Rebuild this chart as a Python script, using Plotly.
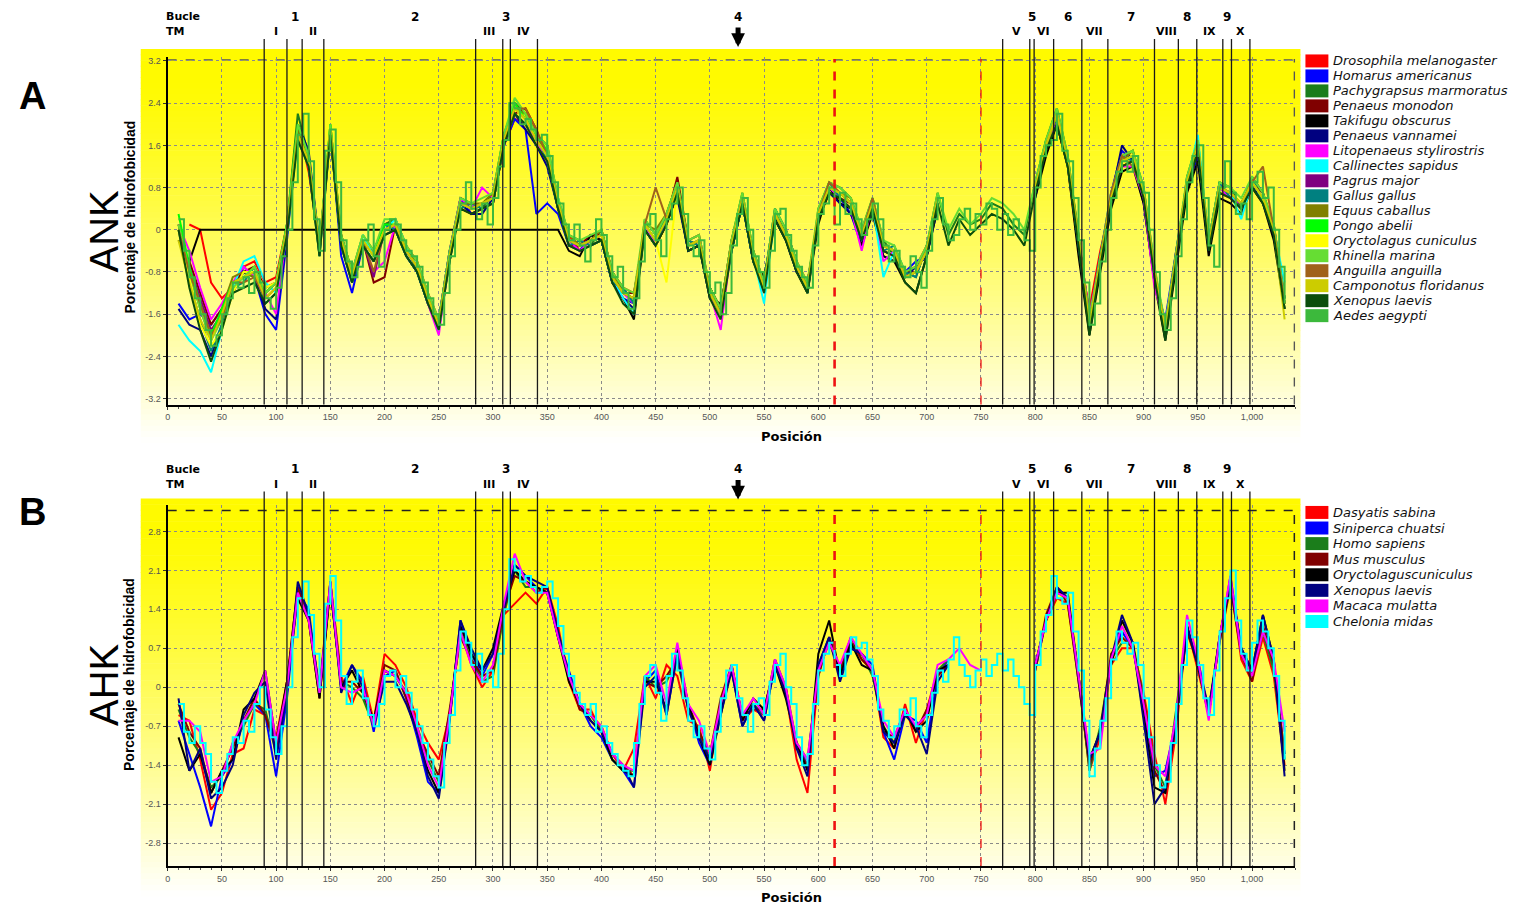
import plotly.graph_objects as go

W, H = 1528, 907
N = None

# ------------------------------------------------------------------ data
X_STEP5 = list(range(10, 1031, 5))
X_STEP10 = list(range(10, 1031, 10))
X_TICKS = list(range(0, 1001, 50))
X_TICK_TEXT = ["{:,}".format(v) for v in X_TICKS]
A_Y_TICKS = [-3.2, -2.4, -1.6, -0.8, 0, 0.8, 1.6, 2.4, 3.2]
A_Y_TICK_TEXT = ["-3.2", "-2.4", "-1.6", "-0.8", "0", "0.8", "1.6", "2.4", "3.2"]
B_Y_TICKS = [-2.8, -2.1, -1.4, -0.7, 0, 0.7, 1.4, 2.1, 2.8]
B_Y_TICK_TEXT = ["-2.8", "-2.1", "-1.4", "-0.7", "0", "0.7", "1.4", "2.1", "2.8"]

TM_BOUNDS = [89, 110, 124, 144, 284, 309, 316, 341, 770, 795,
             799, 817, 843, 867, 910, 932, 949, 973, 981, 998]
TM_LABELS = ["I", "II", "III", "IV", "V", "VI", "VII", "VIII", "IX", "X"]
LOOP_LABELS = ["1", "2", "3", "4", "5", "6", "7", "8", "9"]
LOOP_POS = [117, 228, 312, 526, 797, 830, 888, 940, 977]
ARROW_POS = 526
RED_LINES = [615, 750]

A_NAMES = ["Drosophila melanogaster", "Homarus americanus", "Pachygrapsus marmoratus",
           "Penaeus monodon", "Takifugu obscurus", "Penaeus vannamei",
           "Litopenaeus stylirostris", "Callinectes sapidus", "Pagrus major",
           "Gallus gallus", "Equus caballus", "Pongo abelii", "Oryctolagus cuniculus",
           "Rhinella marina", "Anguilla anguilla", "Camponotus floridanus",
           "Xenopus laevis", "Aedes aegypti"]
A_COLORS = ["#ff0000", "#0000ff", "#1b7d1b", "#800000", "#000000", "#000080",
            "#ff00ff", "#00ffff", "#800080", "#008080", "#808000", "#00ff00",
            "#ffff00", "#66dd33", "#a0621a", "#cccc00", "#0b4d0b", "#3cb93c"]

B_NAMES = ["Dasyatis sabina", "Siniperca chuatsi", "Homo sapiens", "Mus musculus",
           "Oryctolaguscuniculus", "Xenopus laevis", "Macaca mulatta", "Chelonia midas"]
B_COLORS = ["#ff0000", "#0000ff", "#1b7d1b", "#800000", "#000000", "#000080",
            "#ff00ff", "#00ffff"]

# ---- panel A (ANK), step-10 series: positions 10..1030
A_DROSOPHILA = [N, 0.1, 0.0, -1.0, -1.3, -1.1, -0.7, -0.6, -1.0, -0.9,
                0.1, 2.0, 1.1, -0.3, 1.8, -0.1, -0.8, -0.3, -0.4, 0.1,
                0.2, -0.3, -0.6, -1.2, -1.7, -0.4, 0.6, 0.3, 0.4, 0.5,
                1.6, 2.1, 2.0, 1.8, 1.3, 0.4, -0.1, -0.4, -0.2, 0.0,
                -0.8, -1.1, -1.2, 0.0, -0.3, 0.1, 0.7, -0.2, -0.3, -1.1,
                -1.5, -0.2, 0.5, -0.4, -1.0, 0.2, 0.0, -0.6, -1.0, 0.2,
                0.7, 0.6, 0.4, -0.2, 0.4, -0.4, -0.5, -0.8, -0.7, -0.3,
                0.5, N, N, N, N, N, N, N, N,
                0.7, 1.5, 2.0, 1.2, -0.4, -1.5, -0.4, 0.5, 1.2, 1.3,
                0.6, -0.9, -1.8, -0.6, 0.8, 1.5, -0.2, 0.7, 0.6, 0.4,
                0.8, 0.5, 0.1, -1.3]
A_HOMARUS = [-1.4, -1.7, -1.6, -1.8, -1.5, -1.2, -0.7, -0.9, -1.6, -1.9,
             -0.2, 1.9, 1.4, -0.3, 1.9, -0.5, -1.2, -0.3, -0.4, 0.1,
             0.0, -0.5, -0.8, -1.4, -1.7, -0.4, 0.6, 0.3, 0.4, 0.7,
             1.6, 2.1, 1.9, 0.3, 0.5, 0.3, -0.3, -0.4, -0.1, -0.2,
             -1.0, -1.3, -1.4, 0.0, -0.3, 0.3, 0.7, -0.4, -0.3, -1.3,
             -1.5, -0.4, 0.5, -0.6, -1.0, 0.2, -0.2, -0.8, -1.0, 0.2,
             0.7, 0.6, 0.3, -0.3, 0.4, -0.5, -0.6, -0.8, -0.6, -0.5,
             0.4, N, N, N, N, N, N, N, N,
             0.6, 1.5, 2.0, 1.4, -0.3, -1.7, -0.5, 0.7, 1.5, 1.3,
             0.5, -1.0, -1.7, -0.4, 0.8, 1.4, -0.4, 0.9, 0.6, 0.4,
             1.0, 0.7, -0.1, -1.3]
A_PACHYGRAPSUS = [0.1, -0.8, -1.4, -2.0, -1.7, -1.1, -0.8, -0.9, -1.2, -1.0,
                  0.1, 2.2, 1.4, -0.5, 2.0, -0.1, -0.8, -0.1, -0.4, 0.1,
                  0.2, -0.3, -0.8, -1.4, -1.9, -0.6, 0.6, 0.5, 0.4, 0.7,
                  1.8, 2.4, 2.2, 1.8, 1.6, 0.6, -0.1, -0.2, -0.3, 0.0,
                  -0.8, -1.1, -1.4, 0.2, -0.1, 0.3, 0.9, -0.2, -0.3, -1.1,
                  -1.5, -0.2, 0.7, -0.4, -1.0, 0.4, 0.0, -0.6, -1.2, 0.4,
                  0.9, 0.8, 0.6, 0.0, 0.6, -0.2, -0.5, -0.8, -0.9, -0.3,
                  0.7, -0.1, 0.3, 0.1, 0.2, 0.5, 0.4, 0.1, -0.1,
                  0.9, 1.7, 2.3, 1.4, -0.1, -1.9, -0.7, 0.5, 1.4, 1.5,
                  0.8, -0.7, -2.0, -0.6, 1.0, 1.7, -0.2, 0.9, 0.8, 0.4,
                  1.0, 0.7, 0.1, -1.5]
A_MONODON = [N, -0.6, -1.2, -1.8, -1.5, -1.0, -0.8, -0.7, -1.1, -1.0,
             0.0, 1.9, 1.2, -0.4, 1.8, -0.2, -0.8, -0.2, -1.0, -0.9,
             0.1, -0.4, -0.7, -1.3, -1.7, -0.5, 0.4, 0.3, 0.4, 0.5,
             1.6, 2.2, 2.3, 1.9, 1.3, 0.4, -0.3, -0.3, -0.1, -0.1,
             -0.9, -1.2, -1.2, 0.0, -0.2, 0.2, 1.0, -0.2, -0.1, -1.1,
             -1.5, -0.3, 0.5, -0.5, -1.0, 0.3, 0.0, -0.7, -1.0, 0.2,
             0.7, 0.6, 0.5, -0.1, 0.4, -0.3, -0.4, -0.8, -0.8, -0.4,
             0.5, N, N, N, N, N, N, N, N,
             0.7, 1.6, 2.1, 1.3, -0.2, -1.6, -0.6, 0.6, 1.2, 1.3,
             0.7, -0.8, -1.8, -0.5, 0.8, 1.5, -0.3, 0.8, 0.7, 0.5,
             0.9, 0.7, 0.0, -1.3]
A_TAKIFUGU = [-0.2, -0.6, 0.0, 0.0, 0.0, 0.0, 0.0, 0.0, 0.0, 0.0,
              0.0, 0.0, 0.0, 0.0, 0.0, 0.0, 0.0, 0.0, 0.0, 0.0,
              0.0, 0.0, 0.0, 0.0, 0.0, 0.0, 0.0, 0.0, 0.0, 0.0,
              0.0, 0.0, 0.0, 0.0, 0.0, 0.0, -0.4, -0.5, -0.1, -0.2,
              -1.0, -1.3, -1.7, 0.0, -0.3, 0.1, 0.7, -0.4, -0.3, -1.3,
              -1.4, -0.4, 0.5, -0.6, -0.9, 0.2, -0.2, -0.8, -1.2, 0.1,
              0.8, 0.5, 0.4, -0.3, 0.3, -0.5, -0.6, -1.0, -1.2, -0.5,
              0.4, N, N, N, N, N, N, N, N,
              0.6, 1.4, 2.0, 1.2, -0.5, -2.0, -0.8, 0.4, 1.1, 1.2,
              0.5, -1.0, -2.1, -0.7, 0.7, 1.3, -0.5, 0.6, 0.5, 0.3,
              0.8, 0.5, -0.2, -1.5]
A_VANNAMEI = [-1.5, -1.8, -1.9, -2.4, -1.8, -1.2, -0.8, -0.9, -1.5, -1.7,
              -0.1, 2.0, 1.5, -0.3, 1.8, -0.3, -1.0, -0.3, -0.6, -0.1,
              0.0, -0.5, -0.8, -1.4, -1.8, -0.6, 0.5, 0.3, 0.3, 0.6,
              1.6, 2.2, 1.9, 1.6, 1.2, 0.4, -0.2, -0.4, -0.3, -0.2,
              -1.0, -1.3, -1.5, 0.1, -0.2, 0.2, 0.6, -0.4, -0.3, -1.2,
              -1.6, -0.4, 0.5, -0.6, -1.1, 0.2, -0.1, -0.8, -1.1, 0.3,
              0.7, 0.5, 0.3, -0.2, 0.4, -0.4, -0.5, -0.9, -0.7, -0.5,
              0.5, N, N, N, N, N, N, N, N,
              0.7, 1.5, 2.1, 1.3, -0.3, -1.8, -0.5, 0.6, 1.6, 1.3,
              0.6, -0.9, -1.9, -0.4, 0.9, 1.5, -0.4, 0.8, 0.6, 0.5,
              0.9, 0.5, -0.1, -1.4]
A_LITOPENAEUS = [0.1, -0.4, -1.1, -1.7, -1.4, -1.0, -0.7, -0.9, -1.2, -1.6,
                 0.0, 1.9, 1.2, -0.4, 1.8, -0.2, -0.9, -0.2, -0.8, -0.6,
                 0.1, -0.4, -0.7, -1.4, -2.0, -0.5, 0.6, 0.4, 0.8, 0.6,
                 1.6, 2.2, 2.0, 1.7, 1.3, 0.5, -0.2, -0.4, -0.2, -0.1,
                 -0.9, -1.2, -1.4, 0.1, -0.3, 0.2, 0.8, -0.3, -0.2, -1.2,
                 -1.9, -0.3, 0.6, -0.5, -1.2, 0.3, -0.1, -0.7, -1.1, 0.3,
                 0.8, 0.6, 0.4, -0.4, 0.5, -0.6, -0.4, -0.9, -0.8, -0.4,
                 0.6, N, N, N, N, N, N, N, N,
                 0.8, 1.6, 2.1, 1.3, -0.2, -1.6, -0.6, 0.6, 1.2, 1.2,
                 0.6, -1.1, -1.8, -0.5, 0.9, 1.6, -0.3, 0.8, 0.6, 0.5,
                 0.9, 0.6, 0.0, -1.4]
A_CALLINECTES = [-1.8, -2.1, -2.3, -2.7, -1.9, -1.1, -0.6, -0.5, -1.0, -1.2,
                 -0.1, 1.8, 1.3, -0.4, 1.9, -0.2, -0.9, -0.1, -0.5, 0.0,
                 0.2, -0.3, -0.7, -1.3, -1.9, -0.5, 0.5, 0.4, 0.5, 0.6,
                 1.7, 2.3, 2.1, 1.7, 1.4, 0.6, -0.2, -0.3, -0.2, -0.1,
                 -0.9, -1.3, -1.6, 0.1, -0.2, 0.2, 0.8, -0.3, -0.2, -1.2,
                 -1.6, -0.3, 0.6, -0.5, -1.4, 0.3, -0.1, -0.7, -1.1, 0.3,
                 0.8, 0.7, 0.5, -0.1, 0.5, -0.9, -0.4, -0.9, -0.8, -0.4,
                 0.6, N, N, N, N, N, N, N, N,
                 0.8, 1.6, 2.2, 1.3, -0.2, -1.7, -0.6, 0.6, 1.3, 1.4,
                 0.7, -0.8, -1.8, -0.5, 0.9, 1.8, -0.3, 0.8, 0.7, 0.2,
                 0.9, 0.6, 0.0, -1.0]
A_PAGRUS = [N, -0.7, -1.3, -1.9, -1.6, -1.0, -0.9, -0.8, -1.2, -1.0,
            0.0, 1.8, 1.3, -0.4, 1.9, -0.2, -0.9, -0.2, -0.9, 0.0,
            0.1, -0.4, -0.7, -1.3, -1.8, -0.5, 0.5, 0.4, 0.5, 0.6,
            1.7, 2.3, 2.1, 1.7, 1.4, 0.5, -0.2, -0.3, -0.2, -0.1,
            -0.9, -1.2, -1.3, 0.1, -0.2, 0.2, 0.8, -0.3, -0.2, -1.2,
            -1.6, -0.3, 0.6, -0.5, -1.1, 0.3, -0.1, -0.7, -1.1, 0.3,
            0.8, 0.7, 0.5, -0.1, 0.5, -0.3, -0.4, -0.9, -0.8, -0.4,
            0.6, N, N, N, N, N, N, N, N,
            0.8, 1.6, 2.2, 1.3, -0.2, -1.8, -0.6, 0.6, 1.3, 1.4,
            0.7, -0.8, -1.9, -0.5, 0.9, 1.6, -0.3, 0.8, 0.7, 0.5,
            0.9, 0.6, 0.0, -1.4]
A_GALLUS = [0.0, -1.0, -1.7, -2.3, -1.8, -1.1, -1.0, -0.7, -1.4, -1.2,
            0.1, 1.7, 1.2, -0.5, 1.8, -0.3, -1.0, -0.3, -0.6, 0.1,
            0.0, -0.5, -0.8, -1.4, -1.7, -0.4, 0.4, 0.5, 0.4, 0.5,
            1.6, 2.2, 2.0, 1.8, 1.3, 0.4, -0.3, -0.2, -0.3, -0.2,
            -1.0, -1.1, -1.4, 0.0, -0.3, 0.3, 0.7, -0.2, -0.3, -1.1,
            -1.5, -0.4, 0.5, -0.6, -1.0, 0.4, 0.0, -0.6, -1.2, 0.2,
            0.9, 0.6, 0.4, -0.2, 0.6, -0.4, -0.3, -0.8, -0.9, -0.3,
            0.5, N, N, N, N, N, N, N, N,
            0.7, 1.7, 2.1, 1.2, -0.3, -1.9, -0.5, 0.5, 1.4, 1.3,
            0.8, -0.9, -1.8, -0.6, 1.0, 1.5, -0.2, 0.9, 0.6, 0.4,
            1.0, 0.5, 0.1, -1.3]
A_EQUUS = [0.1, -0.8, -1.5, -2.1, -1.5, -0.9, -0.8, -0.9, -1.2, -1.0,
           0.0, 1.9, 1.3, -0.3, 1.9, -0.1, -0.8, -0.2, -0.5, 0.0,
           0.1, -0.4, -0.6, -1.2, -1.8, -0.5, 0.5, 0.5, 0.5, 0.7,
           1.7, 2.3, 2.2, 1.7, 1.5, 0.5, -0.1, -0.3, -0.2, 0.0,
           -0.8, -1.2, -1.3, 0.1, 0.0, 0.3, 0.9, -0.3, -0.2, -1.1,
           -1.5, -0.2, 0.6, -0.4, -1.1, 0.3, -0.1, -0.7, -1.0, 0.3,
           0.8, 0.7, 0.6, -0.1, 0.5, -0.3, -0.4, -0.9, -0.8, -0.4,
           0.6, N, N, N, N, N, N, N, N,
           0.8, 1.5, 2.2, 1.3, -0.1, -1.7, -0.6, 0.6, 1.3, 1.5,
           0.7, -0.8, -1.9, -0.5, 0.9, 1.6, -0.3, 0.8, 0.7, 0.5,
           0.9, 0.6, 0.0, -1.4]
A_PONGO = [0.3, -0.7, -1.4, -2.0, -1.5, -1.0, -0.9, -0.7, -1.2, -1.0,
           0.1, 2.0, 1.4, -0.4, 2.0, -0.2, -0.8, -0.2, -0.5, 0.1,
           0.1, -0.4, -0.7, -1.3, -1.8, -0.5, 0.5, 0.4, 0.5, 0.6,
           1.8, 2.4, 2.1, 1.8, 1.5, 0.5, -0.2, -0.3, -0.2, -0.1,
           -0.9, -1.2, -1.3, 0.1, -0.2, 0.2, 0.8, -0.3, -0.2, -1.2,
           -1.6, -0.3, 0.6, -0.5, -1.1, 0.3, -0.1, -0.7, -1.1, 0.3,
           0.8, 0.7, 0.5, -0.1, 0.5, -0.3, -0.4, -0.9, -0.8, -0.4,
           0.6, N, N, N, N, N, N, N, N,
           0.8, 1.6, 2.2, 1.3, -0.2, -1.8, -0.6, 0.6, 1.3, 1.4,
           0.7, -0.8, -1.9, -0.5, 0.9, 1.6, -0.3, 0.8, 0.7, 0.5,
           0.9, 0.6, 0.0, -1.4]
A_ORYCTOLAGUS = [0.0, -0.9, -1.8, -2.2, -1.9, -1.2, -0.8, -0.8, -1.1, -1.0,
                 0.0, 1.8, 1.3, -0.4, 1.9, -0.2, -0.9, -0.2, -0.5, 0.0,
                 0.1, -0.4, -0.7, -1.3, -1.8, -0.5, 0.5, 0.4, 0.5, 0.6,
                 1.7, 2.3, 2.1, 1.7, 1.4, 0.5, -0.2, -0.3, -0.2, -0.1,
                 -0.9, -1.2, -1.3, 0.1, -0.2, -1.0, 0.8, -0.3, -0.2, -1.2,
                 -1.6, -0.3, 0.6, -0.5, -1.1, 0.3, -0.1, -0.7, -1.1, 0.3,
                 0.8, 0.7, 0.5, -0.1, 0.5, -0.3, -0.4, -0.9, -0.8, -0.4,
                 0.6, N, N, N, N, N, N, N, N,
                 0.8, 1.6, 2.2, 1.3, -0.2, -1.8, -0.6, 0.6, 1.3, 1.4,
                 0.7, -0.8, -1.9, -0.5, 0.9, 1.6, -0.3, 0.8, 0.7, 0.5,
                 0.9, 0.6, 0.0, -1.4]
A_RHINELLA = [0.1, -0.8, -1.5, -2.1, -1.7, -1.1, -0.9, -0.7, -1.2, -1.0,
              0.1, 2.0, 1.4, -0.3, 2.0, -0.1, -0.8, -0.1, -0.4, 0.2,
              0.2, -0.3, -0.6, -1.2, -1.7, -0.4, 0.6, 0.5, 0.6, 0.7,
              1.8, 2.5, 2.2, 1.8, 1.6, 0.6, -0.1, -0.2, -0.1, 0.0,
              -0.8, -1.1, -1.2, 0.2, -0.1, 0.3, 0.9, -0.2, -0.1, -1.1,
              -1.5, -0.2, 0.7, -0.4, -1.0, 0.4, 0.0, -0.6, -1.0, 0.4,
              0.9, 0.8, 0.6, 0.0, 0.6, -0.2, -0.3, -0.8, -0.7, -0.3,
              0.7, 0.0, 0.4, 0.1, 0.3, 0.6, 0.5, 0.3, 0.0,
              0.9, 1.7, 2.3, 1.4, -0.1, -1.7, -0.5, 0.7, 1.4, 1.5,
              0.8, -0.7, -1.8, -0.4, 1.0, 1.7, -0.2, 0.9, 0.8, 0.6,
              1.0, 0.7, 0.1, -1.3]
A_ANGUILLA = [0.0, -0.8, -1.4, -2.0, -1.7, -1.0, -1.0, -0.9, -1.3, -1.1,
              0.0, 1.8, 1.3, -0.4, 1.9, -0.2, -0.9, -0.2, -0.8, 0.0,
              0.1, -0.4, -0.7, -1.3, -1.8, -0.5, 0.5, 0.4, 0.5, 0.6,
              1.7, 2.3, 2.3, 1.9, 1.4, 0.5, -0.2, -0.3, -0.2, -0.1,
              -0.9, -1.2, -1.3, 0.1, 0.8, 0.2, 0.8, -0.3, -0.2, -1.2,
              -1.6, -0.3, 0.6, -0.5, -1.1, 0.3, -0.1, -0.7, -1.1, 0.3,
              0.9, 0.7, 0.5, -0.1, 0.6, -0.3, -0.4, -0.9, -0.8, -0.4,
              0.6, N, N, N, N, N, N, N, N,
              0.8, 1.6, 2.2, 1.3, -0.2, -1.8, -0.6, 0.7, 1.4, 1.2,
              0.7, -0.8, -1.9, -0.5, 0.9, 1.6, -0.3, 0.8, 0.7, 0.5,
              0.9, 1.2, 0.0, -1.4]
A_CAMPONOTUS = [-0.2, -1.0, -1.7, -2.1, -1.6, -1.0, -0.9, -0.8, -1.3, -1.1,
                0.0, 1.8, 1.3, -0.4, 1.9, -0.2, -0.9, -0.2, -0.5, 0.0,
                0.1, -0.4, -0.7, -1.3, -1.8, -0.5, 0.5, 0.4, 0.5, 0.6,
                1.7, 2.3, 2.1, 1.7, 1.4, 0.5, -0.2, -0.3, -0.2, -0.1,
                -0.9, -1.2, -1.3, 0.1, -0.2, 0.2, 0.8, -0.3, -0.2, -1.2,
                -1.6, -0.3, 0.6, -0.5, -1.1, 0.3, -0.1, -0.7, -1.1, 0.3,
                0.8, 0.7, 0.5, -0.1, 0.5, -0.3, -0.4, -0.9, -0.8, -0.4,
                0.6, N, N, N, N, N, N, N, N,
                0.8, 1.6, 2.2, 1.3, -0.2, -1.8, -0.6, 0.6, 1.3, 1.4,
                0.7, -0.8, -1.9, -0.5, 0.9, 1.6, -0.3, 0.8, 0.7, 0.5,
                0.9, 0.6, 0.0, -1.7]
A_XENOPUS = [0.0, -1.1, -1.9, -2.5, -1.9, -1.2, -1.1, -1.0, -1.4, -1.2,
             -0.1, 1.7, 1.2, -0.5, 1.8, -0.3, -1.0, -0.3, -0.6, -0.1,
             0.0, -0.5, -0.8, -1.4, -1.9, -0.6, 0.4, 0.3, 0.4, 0.5,
             1.6, 2.2, 2.0, 1.6, 1.3, 0.4, -0.3, -0.4, -0.3, -0.2,
             -1.0, -1.4, -1.6, 0.0, -0.3, 0.1, 0.7, -0.4, -0.3, -1.3,
             -1.7, -0.4, 0.5, -0.6, -1.2, 0.2, -0.2, -0.8, -1.2, 0.2,
             0.7, 0.6, 0.4, -0.2, 0.4, -0.4, -0.5, -1.0, -1.2, -0.5,
             0.5, -0.3, 0.2, -0.1, 0.1, 0.3, 0.2, 0.0, -0.3,
             0.7, 1.5, 2.0, 1.2, -0.3, -2.0, -0.7, 0.5, 1.2, 1.3,
             0.6, -0.9, -2.1, -0.6, 0.8, 1.5, -0.4, 0.7, 0.6, 0.4,
             0.8, 0.5, -0.1, -1.5]
# step-5 series (drawn on top): positions 10..1030
A_AEDES = [0.2, -0.4, -0.9, -1.3, -1.6, -1.9, -2.2, -2.0, -1.6, -1.3, -1.0, -1.1, -0.9, -1.2, -0.8, -1.0, -1.3, -1.5, -1.1, -0.5,
           0.0, 0.9, 1.8, 2.2, 1.3, 0.2, -0.4, 1.5, 1.9, 0.9, -0.2, -0.6, -0.9, -0.7, -0.2, 0.1, -0.5, -0.7, 0.0, 0.2,
           0.1, -0.2, -0.4, -0.5, -0.7, -1.0, -1.3, -1.6, -1.8, -1.2, -0.5, 0.0, 0.5, 0.9, 0.4, 0.2, 0.5, 0.1, 0.6, 1.2,
           1.7, 2.4, 2.3, 2.0, 2.1, 1.9, 1.7, 1.8, 1.4, 0.9, 0.5, 0.1, -0.2, 0.1, -0.3, -0.6, -0.2, 0.2, -0.1, -0.5,
           -0.9, -0.7, -1.2, -1.5, -1.3, -0.6, 0.1, 0.3, -0.2, -0.5, 0.2, 0.5, 0.8, 0.3, -0.3, -0.5, -0.2, -0.8, -1.2, -1.0,
           -1.6, -1.2, -0.3, 0.3, 0.6, 0.0, -0.5, -0.8, -1.1, -0.4, 0.3, 0.4, -0.1, -0.4, -0.7, -0.9, -1.1, -0.3, 0.3, 0.5,
           0.8, 0.1, 0.7, 0.3, 0.5, 0.2, -0.1, 0.2, 0.5, 0.2, -0.3, -0.6, -0.4, -0.7, -0.9, -0.5, -0.8, -1.1, -0.4, 0.2,
           0.6, 0.1, -0.2, -0.1, 0.2, 0.4, 0.0, 0.3, 0.1, 0.5, 0.4, 0.0, 0.3, -0.1, 0.2, 0.0, -0.2, -0.4, 0.8, 1.4,
           1.6, 1.7, 2.2, 1.5, 1.3, 0.6, -0.2, -1.0, -1.8, -1.4, -0.6, 0.0, 0.6, 1.1, 1.3, 1.1, 1.4, 0.9, 0.7, 0.0,
           -0.8, -1.6, -1.9, -1.3, -0.5, 0.2, 0.9, 1.4, 1.6, 0.6, -0.3, -0.7, 0.8, 1.3, 0.7, 0.3, 0.5, 0.2, 0.9, 1.1,
           0.6, 0.8, 0.0, -0.7, -1.4]

# ---- panel B (AHK), step-10 series
B_DASYATIS = [-0.5, -0.6, -1.3, -2.2, -1.9, -1.2, -1.1, -0.4, -0.5, -0.9,
              0.1, 1.8, 1.2, 0.0, 1.9, 0.2, -0.3, 0.2, -0.6, 0.6,
              0.4, 0.0, -0.6, -1.0, -1.3, -0.5, 1.0, 0.4, 0.0, 0.3,
              1.3, 1.5, 1.7, 1.5, 1.8, 1.1, 0.1, -0.4, -0.4, -0.8,
              -1.2, -1.5, -1.1, 0.2, -0.2, 0.4, 0.2, -0.6, -0.7, -1.5,
              -0.3, 0.3, -0.6, -0.4, -0.5, 0.5, -0.1, -1.3, -1.9, 0.2,
              0.9, 0.3, 0.8, 0.5, 0.3, -0.9, -1.1, -0.3, -1.0, -0.4,
              0.3, 0.4, N, N, N, N, N, N, N,
              0.3, 1.2, 1.6, 1.5, 0.2, -1.5, -0.9, 0.4, 0.7, 0.7,
              -0.1, -1.2, -2.1, -0.8, 1.1, 0.3, -0.5, 0.9, 1.9, 0.5,
              0.1, 0.9, 0.2, -1.4]
B_SINIPERCA = [-0.6, -1.2, -1.8, -2.5, -1.6, -1.3, -0.6, -0.3, -0.5, -1.6,
               -0.2, 1.7, 1.4, -0.1, 1.8, 0.0, 0.4, 0.1, -0.8, 0.2,
               0.3, -0.2, -0.9, -1.7, -1.9, -0.6, 1.2, 0.6, 0.2, 0.6,
               1.4, 2.2, 2.0, 1.8, 1.7, 0.9, 0.3, -0.3, -0.7, -0.9,
               -1.3, -1.5, -1.8, 0.1, 0.3, -0.5, 0.6, -0.3, -1.0, -1.4,
               -0.4, 0.3, -0.7, -0.3, -0.6, 0.4, -0.1, -1.0, -1.4, 0.4,
               0.9, 0.2, 0.7, 0.6, 0.4, -0.8, -1.3, -0.5, -0.6, -1.0,
               0.2, 0.5, N, N, N, N, N, N, N,
               0.3, 1.2, 1.8, 1.6, 0.1, -1.4, -0.8, 0.5, 1.0, 0.7,
               -0.3, -1.6, -1.5, -0.6, 1.0, 0.5, -0.4, 0.8, 2.0, 0.7,
               0.2, 1.1, 0.4, -1.2]
B_HOMO = [-0.4, -0.9, -1.2, -1.8, -1.6, -1.0, -0.7, -0.3, -0.4, -1.2,
          0.0, 1.7, 1.3, -0.1, 1.9, 0.1, 0.0, -0.2, -0.7, 0.3,
          0.2, -0.1, -0.7, -1.3, -1.7, -0.5, 1.0, 0.5, 0.1, 0.2,
          1.3, 2.1, 1.8, 1.8, 1.7, 1.0, 0.2, -0.3, -0.5, -0.8,
          -1.3, -1.5, -1.5, 0.2, 0.0, 0.1, 0.5, -0.4, -0.8, -1.3,
          -0.3, 0.3, -0.5, -0.3, -0.5, 0.5, 0.0, -1.0, -1.3, 0.3,
          0.8, 0.3, 0.8, 0.6, 0.2, -0.7, -1.0, -0.5, -0.7, -0.5,
          0.3, 0.5, N, N, N, N, N, N, N,
          0.4, 1.2, 1.7, 1.6, 0.2, -1.5, -0.7, 0.5, 0.8, 0.8,
          -0.2, -1.4, -1.8, -0.4, 1.1, 0.4, -0.5, 0.9, 1.9, 0.6,
          0.2, 1.0, 0.3, -1.3]
B_MUS = [-0.3, -0.8, -1.1, -1.9, -1.5, -1.1, -0.6, -0.2, -0.5, -1.1,
         0.1, 1.8, 1.2, -0.2, 1.8, 0.1, 0.1, -0.1, -0.6, 0.4,
         0.3, -0.2, -0.8, -1.2, -1.6, -0.4, 0.9, 0.5, 0.2, 0.3,
         1.4, 2.0, 1.9, 1.7, 1.8, 0.9, 0.2, -0.4, -0.5, -0.7,
         -1.2, -1.4, -1.6, 0.1, 0.0, 0.2, 0.5, -0.3, -0.8, -1.2,
         -0.2, 0.4, -0.5, -0.4, -0.4, 0.4, 0.0, -1.1, -1.4, 0.2,
         0.9, 0.3, 0.9, 0.5, 0.3, -0.8, -0.9, -0.4, -0.8, -0.4,
         0.2, 0.4, N, N, N, N, N, N, N,
         0.3, 1.3, 1.8, 1.5, 0.1, -1.4, -0.8, 0.6, 0.9, 0.7,
         -0.2, -1.5, -1.9, -0.5, 1.0, 0.4, -0.4, 0.8, 1.8, 0.6,
         0.1, 1.1, 0.4, -1.2]
B_ORYCTOLAGUS = [-0.9, -1.5, -1.2, -1.9, -1.5, -1.3, -0.4, -0.2, 0.3, -1.0,
                 0.1, 1.6, 1.2, -0.2, 1.8, 0.0, 0.3, -0.1, -0.6, 0.3,
                 0.2, -0.1, -0.8, -1.5, -1.9, -0.5, 1.1, 0.6, 0.3, 0.7,
                 1.5, 2.1, 1.9, 1.8, 1.7, 0.9, 0.1, -0.3, -0.6, -0.8,
                 -1.3, -1.5, -1.6, 0.1, 0.1, -0.4, 0.7, -0.3, -0.9, -1.4,
                 -0.5, 0.4, -0.6, -0.2, -0.4, 0.4, -0.2, -1.0, -1.5, 0.6,
                 1.2, 0.2, 0.8, 0.4, 0.3, -0.7, -1.1, -0.4, -0.8, -0.6,
                 0.3, 0.4, N, N, N, N, N, N, N,
                 0.4, 1.2, 1.7, 1.7, 0.2, -1.3, -0.8, 0.4, 1.2, 0.8,
                 -0.5, -1.8, -1.9, -0.6, 1.1, 0.4, -0.5, 0.9, 1.9, 0.7,
                 0.3, 1.3, 0.5, -1.5]
B_XENOPUS = [-0.2, -1.5, -1.1, -2.0, -1.8, -1.4, -0.5, -0.1, 0.1, -1.3,
             -0.1, 1.9, 1.3, -0.1, 1.9, -0.1, 0.4, 0.0, -0.7, 0.1,
             0.1, -0.3, -0.8, -1.6, -2.0, -0.6, 1.2, 0.7, 0.3, 0.6,
             1.4, 2.2, 2.0, 1.9, 1.8, 1.0, 0.2, -0.3, -0.6, -0.8,
             -1.2, -1.4, -1.8, 0.0, 0.2, -0.5, 0.6, -0.4, -0.9, -1.3,
             -0.5, 0.3, -0.7, -0.3, -0.6, 0.4, -0.1, -1.1, -1.6, 0.4,
             0.9, 0.1, 0.7, 0.6, 0.3, -0.8, -1.0, -0.5, -0.7, -1.2,
             0.1, 0.4, N, N, N, N, N, N, N,
             0.4, 1.2, 1.8, 1.6, 0.2, -1.3, -0.8, 0.5, 1.3, 0.8,
             -0.6, -2.1, -1.8, -0.6, 1.1, 0.4, -0.4, 0.9, 1.9, 0.7,
             0.3, 1.3, 0.5, -1.6]
B_MACACA = [-0.6, -0.6, -0.8, -1.7, -1.6, -1.0, -0.6, -0.3, 0.3, -1.0,
            0.0, 1.7, 1.2, -0.1, 1.9, 0.0, -0.1, 0.0, -0.7, 0.3,
            0.2, -0.1, -0.7, -1.4, -1.8, -0.5, 1.0, 0.4, 0.1, 0.4,
            1.5, 2.4, 1.9, 1.7, 1.7, 0.9, 0.2, -0.3, -0.5, -0.7,
            -1.2, -1.4, -1.5, 0.2, 0.4, -0.3, 0.8, -0.3, -0.6, -1.2,
            -0.3, 0.4, -0.5, -0.2, -0.5, 0.5, 0.0, -1.0, -1.3, 0.3,
            0.8, 0.4, 0.9, 0.6, 0.3, -0.6, -0.9, -0.4, -0.7, -0.5,
            0.4, 0.5, 0.7, 0.4, 0.3, N, N, N, N,
            0.4, 1.2, 1.7, 1.6, 0.2, -1.2, -1.1, 0.5, 1.1, 0.7,
            -0.3, -1.4, -1.6, -0.5, 1.3, 0.5, -0.6, 0.9, 2.0, 0.6,
            0.2, 1.0, 0.5, -0.8]
# step-5 series (drawn on top)
B_CHELONIA = [-0.3, -0.8, -1.0, -0.7, -1.0, -1.2, -1.7, -1.9, -1.5, -1.2, -0.9, -1.0, -0.6, -0.8, -0.3, 0.0, -0.4, -0.9, -1.2, -0.7,
              0.0, 0.9, 1.6, 1.9, 1.3, 0.6, 0.0, 1.5, 2.0, 1.2, 0.2, -0.3, 0.1, 0.3, -0.2, -0.5, -0.7, -0.3, 0.2, 0.3,
              0.0, 0.2, -0.1, -0.4, -0.7, -1.0, -1.3, -1.6, -1.8, -1.0, -0.5, 0.3, 1.0, 0.8, 0.4, 0.6, 0.1, 0.3, 0.0, 0.6,
              1.4, 2.3, 2.1, 1.9, 2.0, 1.8, 1.7, 1.8, 1.9, 1.6, 1.1, 0.6, 0.2, -0.1, -0.3, -0.5, -0.3, -0.8, -0.7, -1.0,
              -1.2, -1.4, -1.5, -1.6, -1.0, -0.3, 0.2, 0.4, -0.1, -0.6, 0.2, 0.6, 0.3, -0.2, -0.6, -0.9, -0.7, -1.1, -1.3, -0.8,
              -0.2, 0.3, 0.4, -0.2, -0.5, -0.8, -0.3, -0.2, -0.5, 0.1, 0.4, 0.6, 0.0, -0.3, -0.9, -1.4, -1.2, -0.3, 0.3, 0.6,
              0.8, 0.4, 0.2, 0.6, 0.9, 0.7, 0.8, 0.5, 0.2, -0.4, -0.6, -0.9, -0.7, -0.4, -0.5, -0.2, -0.7, -0.9, -0.5, -0.1,
              0.3, 0.1, 0.5, 0.9, 0.4, 0.2, 0.0, 0.3, 0.5, 0.2, 0.4, 0.6, 0.3, 0.5, 0.2, 0.0, -0.3, -0.5, 0.4, 1.0,
              1.3, 2.0, 1.6, 1.5, 1.7, 1.0, 0.3, -0.6, -1.6, -1.1, -0.6, -0.2, 0.5, 1.0, 0.8, 0.6, 0.8, 0.4, -0.2, -0.9,
              -1.4, -1.8, -1.7, -1.0, -0.3, 0.4, 1.2, 0.9, 0.4, -0.2, -0.5, 0.3, 1.0, 1.6, 2.1, 1.2, 0.6, 0.3, 0.8, 1.2,
              1.0, 0.7, 0.2, -0.6, -1.3]

A_SERIES = [A_DROSOPHILA, A_HOMARUS, A_PACHYGRAPSUS, A_MONODON, A_TAKIFUGU, A_VANNAMEI,
            A_LITOPENAEUS, A_CALLINECTES, A_PAGRUS, A_GALLUS, A_EQUUS, A_PONGO,
            A_ORYCTOLAGUS, A_RHINELLA, A_ANGUILLA, A_CAMPONOTUS, A_XENOPUS, A_AEDES]
B_SERIES = [B_DASYATIS, B_SINIPERCA, B_HOMO, B_MUS, B_ORYCTOLAGUS, B_XENOPUS, B_MACACA, B_CHELONIA]

for s in A_SERIES + B_SERIES:
    assert len(s) in (len(X_STEP10), len(X_STEP5)), len(s)

# ------------------------------------------------------------------ layout helpers
def pxx(px):
    return px / W


def pxy(py):
    return 1 - py / H


X_DOMAIN = [pxx(165), pxx(1295)]
X_RANGE = [0, 1040]
A_DOMAIN_Y = [pxy(404), pxy(55.8)]
A_RANGE_Y = [-3.314, 3.28]
B_DOMAIN_Y = [pxy(866), pxy(505)]
B_RANGE_Y = [-3.213, 3.267]

fig = go.Figure()

for vals, col in zip(A_SERIES, A_COLORS):
    xs = X_STEP5 if len(vals) == len(X_STEP5) else X_STEP10
    shape = "hv" if len(vals) == len(X_STEP5) else "linear"
    fig.add_trace(go.Scatter(x=xs, y=vals, mode="lines", xaxis="x", yaxis="y",
                             line=dict(color=col, width=2, shape=shape),
                             connectgaps=False, showlegend=False, hoverinfo="skip"))
for vals, col in zip(B_SERIES, B_COLORS):
    xs = X_STEP5 if len(vals) == len(X_STEP5) else X_STEP10
    shape = "hv" if len(vals) == len(X_STEP5) else "linear"
    fig.add_trace(go.Scatter(x=xs, y=vals, mode="lines", xaxis="x2", yaxis="y2",
                             line=dict(color=col, width=2, shape=shape),
                             connectgaps=False, showlegend=False, hoverinfo="skip"))

shapes = []
annotations = []


def gradient(py_top, py_bot, px_l, px_r, n=70):
    span = py_bot - py_top
    for k in range(n):
        t0, t1 = k / n, (k + 1) / n
        t = (t0 + t1) / 2
        w = max(0.0, (t - 0.08) / 0.92) ** 1.25
        g = int(round(250 + 5 * w))
        b = int(round(255 * w))
        shapes.append(dict(type="rect", xref="paper", yref="paper", layer="below",
                           x0=pxx(px_l), x1=pxx(px_r),
                           y0=pxy(py_top + span * t1 + 0.6), y1=pxy(py_top + span * t0),
                           fillcolor="rgb(255,%d,%d)" % (g, b), line=dict(width=0)))


gradient(48, 442, 138, 1300)
gradient(498, 896, 138, 1300)

panels = [
    dict(xr="x", yr="y", dom=A_DOMAIN_Y, tm_top=38, red_top=58, dash_y=3.22,
         dash_col="#555555", dash_w=1.4, hdr1=16, hdr2=31, arrow_tip=46,
         title_y=436, big="ANK", big_y=230, sub_y=216, letter="A", letter_y=95,
         names=A_NAMES, colors=A_COLORS, leg_y0=60, leg_dy=15.0),
    dict(xr="x2", yr="y2", dom=B_DOMAIN_Y, tm_top=491, red_top=510, dash_y=3.177,
         dash_col="#222222", dash_w=1.6, hdr1=469, hdr2=484, arrow_tip=499,
         title_y=897, big="AHK", big_y=684, sub_y=674, letter="B", letter_y=512,
         names=B_NAMES, colors=B_COLORS, leg_y0=512, leg_dy=15.6),
]

bold = dict(family="DejaVu Sans", size=11, color="black")
for p in panels:
    xr, yr = p["xr"], p["yr"]
    bottom = p["dom"][0]
    # TM boundary lines
    for b in TM_BOUNDS:
        shapes.append(dict(type="line", xref=xr, yref="paper", x0=b, x1=b,
                           y0=bottom, y1=pxy(p["tm_top"]), layer="above",
                           line=dict(color="#1a1a1a", width=1.3)))
    # red dashed lines
    for i, r in enumerate(RED_LINES):
        shapes.append(dict(type="line", xref=xr, yref="paper", x0=r, x1=r,
                           y0=bottom, y1=pxy(p["red_top"]), layer="above",
                           line=dict(color="#ee1111", width=2.6 if i == 0 else 1.3,
                                     dash="dash")))
    # top dashed and right dashed borders
    shapes.append(dict(type="line", xref=xr, yref=yr, x0=0, x1=1040,
                       y0=p["dash_y"], y1=p["dash_y"], layer="below",
                       line=dict(color=p["dash_col"], width=p["dash_w"], dash="dash")))
    shapes.append(dict(type="line", xref=xr, yref="paper", x0=1039, x1=1039,
                       y0=bottom, y1=pxy(p["red_top"]), layer="below",
                       line=dict(color=p["dash_col"], width=p["dash_w"], dash="dash")))
    # header labels
    annotations.append(dict(text="<b>Bucle</b>", xref="paper", yref="paper",
                            x=pxx(161), y=pxy(p["hdr1"]), xanchor="left", yanchor="middle",
                            showarrow=False, font=bold))
    annotations.append(dict(text="<b>TM</b>", xref="paper", yref="paper",
                            x=pxx(161), y=pxy(p["hdr2"]), xanchor="left", yanchor="middle",
                            showarrow=False, font=bold))
    for lab, pos in zip(LOOP_LABELS, LOOP_POS):
        annotations.append(dict(text="<b>%s</b>" % lab, xref=xr, yref="paper",
                                x=pos, y=pxy(p["hdr1"]), xanchor="center", yanchor="middle",
                                showarrow=False, font=dict(family="DejaVu Sans", size=12, color="black")))
    for k, lab in enumerate(TM_LABELS):
        mid = (TM_BOUNDS[2 * k] + TM_BOUNDS[2 * k + 1]) / 2
        annotations.append(dict(text="<b>%s</b>" % lab, xref=xr, yref="paper",
                                x=mid, y=pxy(p["hdr2"]), xanchor="center", yanchor="middle",
                                showarrow=False, font=bold))
    # arrow under loop 4
    annotations.append(dict(text="", xref=xr, yref="paper", x=ARROW_POS, y=pxy(p["arrow_tip"]),
                            ax=0, ay=-21, showarrow=True, arrowhead=2, arrowsize=0.55,
                            arrowwidth=5, arrowcolor="black"))
    # axis titles and panel labels
    annotations.append(dict(text="<b>Posición</b>", xref=xr, yref="paper", x=575,
                            y=pxy(p["title_y"]), xanchor="center", yanchor="middle",
                            showarrow=False, font=dict(family="DejaVu Sans", size=13, color="black")))
    annotations.append(dict(text=p["big"], xref="paper", yref="paper", x=pxx(101),
                            y=pxy(p["big_y"]), xanchor="center", yanchor="middle", textangle=-90,
                            showarrow=False, font=dict(family="Liberation Sans", size=40, color="black")))
    annotations.append(dict(text="<b>Porcentaje de hidrofobicidad</b>", xref="paper", yref="paper",
                            x=pxx(127), y=pxy(p["sub_y"]), xanchor="center", yanchor="middle",
                            textangle=-90, showarrow=False,
                            font=dict(family="Liberation Sans", size=14, color="black")))
    annotations.append(dict(text="<b>%s</b>" % p["letter"], xref="paper", yref="paper",
                            x=pxx(30), y=pxy(p["letter_y"]), xanchor="center", yanchor="middle",
                            showarrow=False, font=dict(family="Liberation Sans", size=38, color="black")))
    # legend (colour boxes + italic names)
    for i, (nm, col) in enumerate(zip(p["names"], p["colors"])):
        cy = p["leg_y0"] + i * p["leg_dy"]
        shapes.append(dict(type="rect", xref="paper", yref="paper", layer="above",
                           x0=pxx(1305), x1=pxx(1328), y0=pxy(cy + 6.5), y1=pxy(cy - 6.5),
                           fillcolor=col, line=dict(width=0)))
        annotations.append(dict(text="<i>%s</i>" % nm, xref="paper", yref="paper",
                                x=pxx(1331), y=pxy(cy), xanchor="left", yanchor="middle",
                                showarrow=False,
                                font=dict(family="DejaVu Sans", size=13, color="#111111")))

axis_common = dict(showgrid=True, gridcolor="#8a8a8a", griddash="dot", gridwidth=1,
                   zeroline=False, showline=True, linecolor="black", linewidth=2,
                   ticks="outside", ticklen=3, tickcolor="#333333",
                   tickfont=dict(family="Liberation Sans", size=9, color="#555555"))

fig.update_layout(
    width=W, height=H, margin=dict(l=0, r=0, t=0, b=0),
    paper_bgcolor="white", plot_bgcolor="rgba(0,0,0,0)", showlegend=False,
    xaxis=dict(domain=X_DOMAIN, range=X_RANGE, anchor="y", tickvals=X_TICKS,
               ticktext=X_TICK_TEXT,
               minor=dict(ticks="outside", ticklen=2, dtick=10, tickcolor="#555555", showgrid=False),
               **axis_common),
    yaxis=dict(domain=A_DOMAIN_Y, range=A_RANGE_Y, anchor="x", tickvals=A_Y_TICKS,
               ticktext=A_Y_TICK_TEXT, **axis_common),
    xaxis2=dict(domain=X_DOMAIN, range=X_RANGE, anchor="y2", tickvals=X_TICKS,
                ticktext=X_TICK_TEXT,
                minor=dict(ticks="outside", ticklen=2, dtick=10, tickcolor="#555555", showgrid=False),
                **axis_common),
    yaxis2=dict(domain=B_DOMAIN_Y, range=B_RANGE_Y, anchor="x2", tickvals=B_Y_TICKS,
                ticktext=B_Y_TICK_TEXT, **axis_common),
    shapes=shapes,
    annotations=annotations,
)

fig.write_html("out.html",
               config={"displayModeBar": False, "staticPlot": True},
               post_script="document.body.style.margin='0px';"
                           "document.body.style.padding='0px';"
                           "document.documentElement.style.overflow='hidden';")
